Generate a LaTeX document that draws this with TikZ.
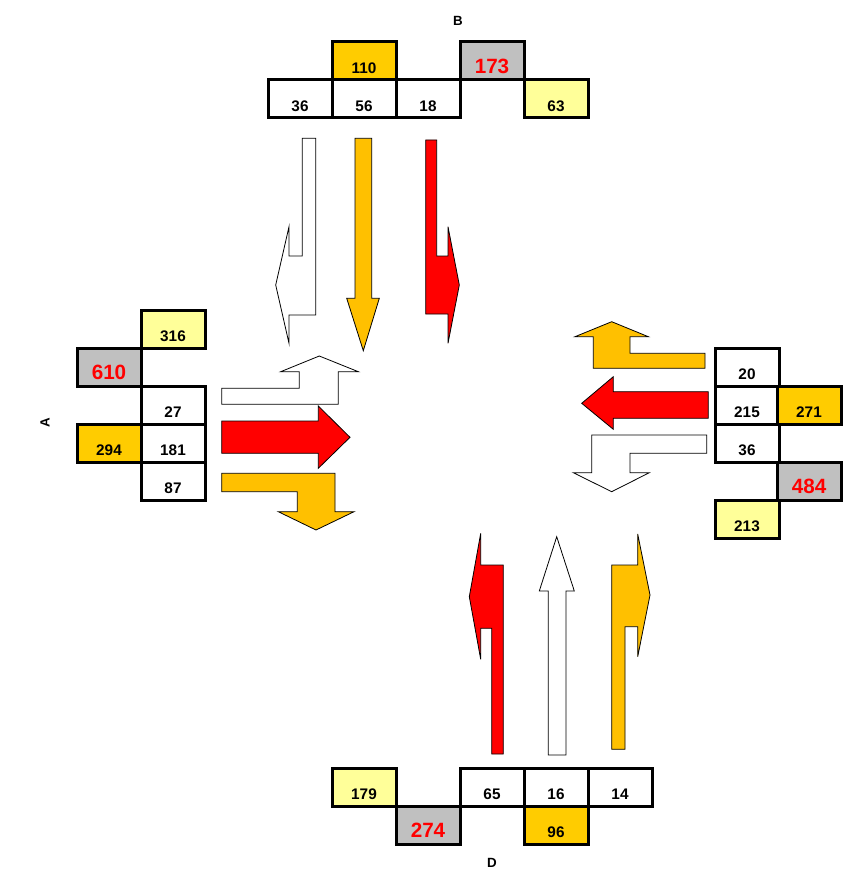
\documentclass[tikz,border=0pt]{standalone}
\usepackage{fontspec}
\setmainfont{Liberation Sans}
\definecolor{lightyellow}{HTML}{FFFF99}
\definecolor{gold}{HTML}{FFCC00}
\definecolor{amber}{HTML}{FFC000}
\definecolor{silver}{HTML}{C0C0C0}

\begin{document}
\begin{tikzpicture}[x=0.75pt,y=-0.75pt,
    cell/.style={draw,line width=2.25pt,minimum width=48pt,minimum height=28.5pt,
      inner sep=0pt,text height=19pt,text depth=0pt,
      font=\fontsize{11.5}{12}\selectfont\bfseries},
    total/.style={cell,fill=silver,text=red,font=\fontsize{15.5}{16}\selectfont\bfseries},
    arm/.style={font=\fontsize{10}{12}\selectfont\bfseries},
    flow/.style={draw=black,line width=0.6pt,line join=miter}]
  \useasboundingbox (0,0) rectangle (843,877);

  % approach B (north)
  \node[arm] (B) at (458,21) {B};
  \node[cell,fill=gold] (B1) at (364,61) {110};
  \node[total] (BT) at (492,61) {173};
  \node[cell] (B2) at (300,99) {36};
  \node[cell] (B3) at (364,99) {56};
  \node[cell] (B4) at (428,99) {18};
  \node[cell,fill=lightyellow] (B5) at (556,99) {63};

  % approach A (west)
  \node[arm,rotate=90] (A) at (45,423) {A};
  \node[cell,fill=lightyellow] (A1) at (173,329) {316};
  \node[total] (AT) at (109,367) {610};
  \node[cell] (A2) at (173,405) {27};
  \node[cell,fill=gold] (A3) at (109,443) {294};
  \node[cell] (A4) at (173,443) {181};
  \node[cell] (A5) at (173,481) {87};

  % approach C (east)
  \node[cell] (C1) at (747,367) {20};
  \node[cell] (C2) at (747,405) {215};
  \node[cell,fill=gold] (C3) at (809,405) {271};
  \node[cell] (C4) at (747,443) {36};
  \node[total] (CT) at (809,481) {484};
  \node[cell,fill=lightyellow] (C5) at (747,519) {213};

  % approach D (south)
  \node[arm] (D) at (492,863) {D};
  \node[cell,fill=lightyellow] (D1) at (364,787) {179};
  \node[total] (DT) at (428,825) {274};
  \node[cell] (D2) at (492,787) {65};
  \node[cell] (D3) at (556,787) {16};
  \node[cell] (D4) at (620,787) {14};
  \node[cell,fill=gold] (D5) at (556,825) {96};

  % turning arrows from B
  \filldraw[flow,fill=white] (315.7,138.3) -- (302.3,138.3) -- (302.3,256) -- (289,256)
    -- (289,226.7) -- (275.7,285) -- (289,343.3) -- (289,315) -- (315.7,315) -- cycle;
  \filldraw[flow,fill=amber] (355,138.3) -- (371.7,138.3) -- (371.7,298.3) -- (379.3,298.3)
    -- (363.3,350.7) -- (346.7,298.3) -- (355,298.3) -- cycle;
  \filldraw[flow,fill=red] (425.7,140) -- (436.7,140) -- (436.7,256) -- (448,256)
    -- (448,226.7) -- (459.3,285) -- (448,343.3) -- (448,314) -- (425.7,314) -- cycle;

  % turning arrows from A
  \filldraw[flow,fill=white] (221.7,388.3) -- (299.3,388.3) -- (299.3,371.7) -- (280.7,371.7)
    -- (319.3,356) -- (358.3,371.7) -- (338.3,371.7) -- (338.3,404.3) -- (221.7,404.3) -- cycle;
  \filldraw[flow,fill=red] (221.7,421) -- (318.3,421) -- (318.3,406) -- (350,437.3)
    -- (318.3,468.3) -- (318.3,453.3) -- (221.7,453.3) -- cycle;
  \filldraw[flow,fill=amber] (221.7,473.3) -- (335,473.3) -- (335,511.7) -- (354,511.7)
    -- (316,530) -- (278.3,511.7) -- (297.3,511.7) -- (297.3,491.7) -- (221.7,491.7) -- cycle;

  % turning arrows from C
  \filldraw[flow,fill=amber] (705,353.3) -- (630,353.3) -- (630,336.7) -- (648.3,336.7)
    -- (611.7,321.7) -- (575,336.7) -- (593.3,336.7) -- (593.3,368.3) -- (705,368.3) -- cycle;
  \filldraw[flow,fill=red] (708.3,391.7) -- (613.3,391.7) -- (613.3,376.7) -- (581.7,403.3)
    -- (613.3,429.3) -- (613.3,418.3) -- (708.3,418.3) -- cycle;
  \filldraw[flow,fill=white] (706.7,435) -- (591.7,435) -- (591.7,472.7) -- (573.3,472.7)
    -- (611.7,491.7) -- (649.3,472.7) -- (630,472.7) -- (630,453.3) -- (706.7,453.3) -- cycle;

  % turning arrows from D
  \filldraw[flow,fill=red] (503.3,754) -- (503.3,565) -- (480.7,565) -- (480.7,533.3)
    -- (469.3,596.7) -- (480.7,659.3) -- (480.7,628.3) -- (491.7,628.3) -- (491.7,754) -- cycle;
  \filldraw[flow,fill=white] (548.3,755) -- (548.3,591) -- (539.3,591) -- (556.7,536.7)
    -- (574.3,591) -- (566,591) -- (566,755) -- cycle;
  \filldraw[flow,fill=amber] (611.7,749.3) -- (611.7,565) -- (637.7,565) -- (637.7,534)
    -- (650,595) -- (637.7,656.7) -- (637.7,626.7) -- (625,626.7) -- (625,749.3) -- cycle;
\end{tikzpicture}
\end{document}
